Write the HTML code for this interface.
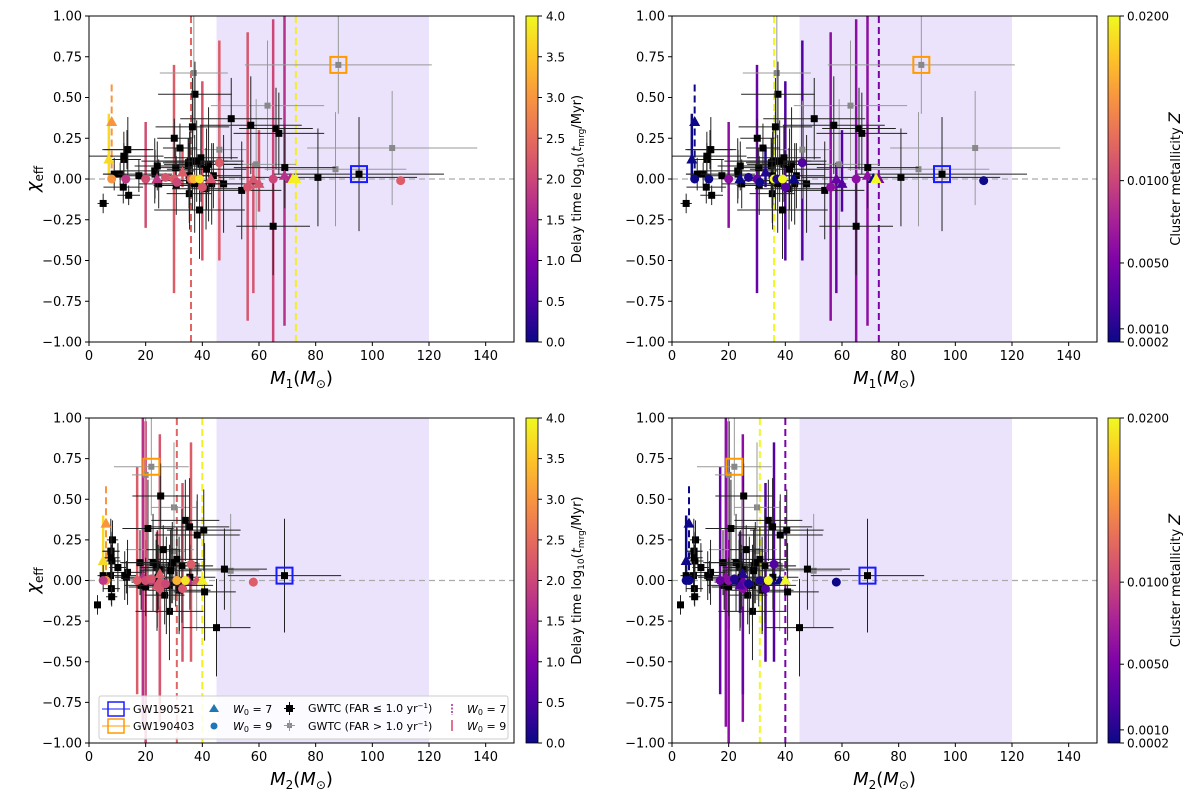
<!DOCTYPE html>
<html><head><meta charset="utf-8">
<style>
html,body{margin:0;padding:0;background:#fff;}
svg{display:block;font-family:"DejaVu Sans","Liberation Sans",sans-serif;}
</style></head>
<body>
<svg id="chart" width="1200" height="803" viewBox="0 0 1200 803" xmlns="http://www.w3.org/2000/svg">
<defs>
<linearGradient id="plasma" x1="0" y1="1" x2="0" y2="0">
<stop offset="0" stop-color="#0d0887"/><stop offset="0.125" stop-color="#4c02a1"/><stop offset="0.25" stop-color="#7e03a8"/><stop offset="0.375" stop-color="#a82296"/><stop offset="0.5" stop-color="#cc4778"/><stop offset="0.625" stop-color="#e66c5c"/><stop offset="0.75" stop-color="#f89540"/><stop offset="0.875" stop-color="#fdc527"/><stop offset="1" stop-color="#f0f921"/>
</linearGradient>
</defs>
</svg>
<script>
// ---- GWTC events ----
const gwM1 = [35.6,23.2,13.7,30.8,11.0,50.2,35.0,30.6,35.4,39.5,24.6,30.1,35.5,47.5,41.3,39.5,43.3,23.3,35.7,39.0,37.4,66.0,42.2,36.5,69.1,57.1,35.1,53.9,67.0,12.1,17.6,36.5,13.4,38.0,12.3,41.5,37.3,32.1,24.1,43.9,35.3,8.9,80.8,12.3,65.0,5.0,14.0,95.3];
const gwM2 = [30.6,13.6,7.7,20.0,7.6,34.0,23.8,25.2,26.7,29.0,18.4,8.3,24.0,31.8,31.9,31.0,28.4,12.6,18.0,28.4,25.3,40.5,32.8,22.6,47.8,35.5,23.7,40.8,38.2,7.9,13.2,20.8,7.8,29.4,8.1,28.8,27.3,26.2,10.2,35.6,24.4,5.0,24.1,7.8,45.0,3.0,8.0,69.0];
const gwChi = [-0.01,0.05,0.18,-0.04,0.03,0.37,0.08,0.07,-0.09,0.09,-0.03,0.25,-0.01,-0.03,-0.06,0.13,-0.03,0.03,0.11,-0.19,0.52,0.31,0.09,0.11,0.07,0.33,0.10,-0.07,0.28,-0.05,0.02,0.32,0.18,0.11,0.12,0.06,-0.03,0.19,0.08,0.02,0.02,0.03,0.01,0.14,-0.29,-0.15,-0.10,0.03];
const gwM1Err = [5,14,9,8,6,18,8,6,8,13,7,6,12,14,12,13,11,6,12,16,13,13,12,18,18,18,9,14,16,7,6,13,8,11,6,14,12,6,8,10,11,4,35,14,13,2,4,30];
const gwM2Err = [6,6,3,6,3,12,6,6,7,9,6,2,9,12,11,10,10,4,7,12,10,13,11,11,15,14,7,11,15,3,4,9,3,9,3,11,10,6,3,9,8,2,12,3,12,1,2,20];
const gwChiErr = [0.15,0.2,0.2,0.18,0.07,0.25,0.17,0.12,0.18,0.23,0.15,0.12,0.3,0.3,0.25,0.2,0.25,0.15,0.2,0.3,0.2,0.25,0.35,0.3,0.25,0.3,0.15,0.3,0.25,0.1,0.1,0.3,0.12,0.25,0.1,0.25,0.3,0.15,0.15,0.2,0.2,0.1,0.3,0.15,0.3,0.06,0.06,0.35];
// low significance (FAR > 1/yr)
const lowM1 = [88,107,87,63,46,37,59];
const lowM2 = [22,25,50,30,30,20,38];
const lowChi = [0.70,0.19,0.06,0.45,0.18,0.65,0.09];
const lowM1Err = [33,30,25,20,10,12,14];
const lowChiErr = [0.3,0.35,0.35,0.4,0.3,0.4,0.4];
// ---- cluster model mergers ----
const clM1 = [8,8,36,73,65,69,56,46,40,30,58,24,71,110,13,37,39,43,33,72,20,7,60,27,31];
const clM2 = [6,6,31,40,20,19,25,36,33,17,25,22,35,58,5,31,34,38,25,40,20,5,24,22,27];
const clChi = [0.35,0.0,0.0,0.0,0.0,0.02,-0.05,0.1,-0.05,0.0,0.0,0.0,0.0,-0.01,0.0,0.0,0.0,0.0,0.04,0.0,0.0,0.12,-0.03,0.01,-0.02];
const clLo = [0.0,0.0,-1,-1,-1,-0.9,-0.87,-0.5,-0.5,-0.7,-0.7,0,0,0,0,0,0,0,-0.05,0,-0.3,0.0,-0.2,0,0];
const clHi = [0.58,0.0,1,1,0.98,1.0,0.9,0.85,0.6,0.7,0.1,0,0,0,0,0,0,0,0.2,0,0.35,0.4,0.3,0,0];
const clW0 = [7,9,9,7,9,7,9,9,9,9,7,7,7,9,9,9,9,7,7,7,9,7,7,9,9];
const clLogT = [3.0,3.0,2.4,3.9,2.0,1.7,2.2,2.3,2.2,2.3,2.2,1.8,1.6,2.3,1.8,3.3,3.8,2.2,2.3,3.9,2.1,3.7,2.2,2.2,2.0];
const clZ = [0.0002,0.0002,0.02,0.005,0.006,0.006,0.006,0.003,0.003,0.004,0.004,0.0002,0.0002,0.0002,0.0002,0.001,0.02,0.0002,0.001,0.02,0.006,0.0002,0.003,0.001,0.0005];
const clDashed = [1,0,1,1,0,0,0,0,0,0,0,0,0,0,0,0,0,0,0,0,0,0,0,0,0];
const xTicks = [0,20,40,60,80,100,120,140];
const yTicks = [1.00,0.75,0.50,0.25,0.00,-0.25,-0.50,-0.75,-1.00];
const delayTicks = [0.0,0.5,1.0,1.5,2.0,2.5,3.0,3.5,4.0];
const zTicks = [0.0002,0.0010,0.0050,0.0100,0.0200];

const NS="http://www.w3.org/2000/svg";
const svg=document.getElementById('chart');
function el(tag,attrs,parent){const e=document.createElementNS(NS,tag);for(const k in attrs)e.setAttribute(k,attrs[k]);(parent||svg).appendChild(e);return e;}
const stops=[[0,[13,8,135]],[0.125,[76,2,161]],[0.25,[126,3,168]],[0.375,[168,34,150]],[0.5,[204,71,120]],[0.625,[230,108,92]],[0.75,[248,149,64]],[0.875,[253,197,39]],[1,[240,249,33]]];
function plasma(t){t=Math.max(0,Math.min(1,t));for(let i=1;i<stops.length;i++){if(t<=stops[i][0]){const a=stops[i-1],b=stops[i];const f=(t-a[0])/(b[0]-a[0]);const c=a[1].map((v,j)=>Math.round(v+(b[1][j]-v)*f));return `rgb(${c[0]},${c[1]},${c[2]})`;}}return 'rgb(240,249,33)';}

const panels=[
 {x0:89,x1:514,y0:16,y1:342,mass:1,mode:'t',cbx:526,name:'m1-delay'},
 {x0:672,x1:1097,y0:16,y1:342,mass:1,mode:'z',cbx:1108,name:'m1-metallicity'},
 {x0:89,x1:514,y0:418,y1:743,mass:2,mode:'t',cbx:526,name:'m2-delay'},
 {x0:672,x1:1097,y0:418,y1:743,mass:2,mode:'z',cbx:1108,name:'m2-metallicity'}];

panels.forEach((p,pi)=>{
 const g=el('g',{});
 
 
 const sx=v=>p.x0+(v/150)*(p.x1-p.x0);
 const sy=v=>p.y0+(1-v)/2*(p.y1-p.y0);
 const cp='clip'+pi;
 const c=el('clipPath',{id:cp},g);el('rect',{x:p.x0,y:p.y0,width:p.x1-p.x0,height:p.y1-p.y0},c);
 const pg=el('g',{'clip-path':`url(#${cp})`},g);
 const shade=el('rect',{x:sx(45),y:p.y0,width:sx(120)-sx(45),height:p.y1-p.y0,fill:'#ebe3fc'},pg);
 
 
 el('line',{x1:p.x0,x2:p.x1,y1:sy(0),y2:sy(0),stroke:'#aaa','stroke-dasharray':'6,4','stroke-width':1.2},pg);
 const mass=(a,b)=>p.mass===1?a:b;
 const col=i=>p.mode==='t'?plasma(clLogT[i]/4):plasma((clZ[i]-0.0002)/(0.0198));
 clM1.forEach((m,i)=>{ if(clHi[i]-clLo[i]<=0) return;
  const x=sx(mass(m,clM2[i]));
  const ln=el('line',{x1:x,x2:x,y1:sy(clHi[i]),y2:sy(clLo[i]),stroke:col(i),'stroke-width':clDashed[i]?2:2.5,'stroke-dasharray':clDashed[i]?'7,4':'none'},pg);
  
  
 });
 lowM1.forEach((m,i)=>{
  const x=sx(mass(m,lowM2[i])),y=sy(lowChi[i]);const e=mass(lowM1Err[i],lowM1Err[i]*0.4);
  el('line',{x1:sx(mass(m,lowM2[i])-e),x2:sx(mass(m,lowM2[i])+e),y1:y,y2:y,stroke:'#999','stroke-width':1},pg);
  el('line',{x1:x,x2:x,y1:sy(lowChi[i]+lowChiErr[i]),y2:sy(lowChi[i]-lowChiErr[i]),stroke:'#999','stroke-width':1},pg);
  const r=el('rect',{x:x-3,y:y-3,width:6,height:6,fill:'#888'},pg);
  
  
 });
 gwM1.forEach((m,i)=>{
  const mv=mass(m,gwM2[i]);const e=mass(gwM1Err[i],gwM2Err[i]);
  const x=sx(mv),y=sy(gwChi[i]);
  el('line',{x1:sx(mv-e),x2:sx(mv+e),y1:y,y2:y,stroke:'#222','stroke-width':1},pg);
  el('line',{x1:x,x2:x,y1:sy(gwChi[i]+gwChiErr[i]),y2:sy(gwChi[i]-gwChiErr[i]),stroke:'#222','stroke-width':1},pg);
  const r=el('rect',{x:x-3.5,y:y-3.5,width:7,height:7,fill:'#000'},pg);
  
  
 });
 clM1.forEach((m,i)=>{
  const x=sx(mass(m,clM2[i])),y=sy(clChi[i]);let mk;
  if(clW0[i]===7) mk=el('polygon',{points:`${x},${y-6} ${x-5.5},${y+4} ${x+5.5},${y+4}`,fill:col(i)},pg);
  else mk=el('circle',{cx:x,cy:y,r:4.5,fill:col(i)},pg);
  
  
 });
 const hl=[[95.3,69,0.03,'#1a1aff','gw190521-marker'],[88,22,0.70,'#ff9a00','gw190403-marker']];
 hl.forEach(h=>{const x=sx(mass(h[0],h[1])),y=sy(h[2]);
  const r=el('rect',{x:x-8,y:y-8,width:16,height:16,fill:'none',stroke:h[3],'stroke-width':2},pg);
  
  });
 el('rect',{x:p.x0,y:p.y0,width:p.x1-p.x0,height:p.y1-p.y0,fill:'none',stroke:'#000','stroke-width':1},g);
 xTicks.forEach(t=>{const x=sx(t);el('line',{x1:x,x2:x,y1:p.y1,y2:p.y1+4,stroke:'#000'},g);
  const tx=el('text',{x:x,y:p.y1+18,'text-anchor':'middle','font-size':13},g);tx.textContent=t;
  });
 yTicks.forEach(t=>{const y=sy(t);el('line',{x1:p.x0-4,x2:p.x0,y1:y,y2:y,stroke:'#000'},g);
  const tx=el('text',{x:p.x0-7,y:y+4.5,'text-anchor':'end','font-size':13},g);tx.textContent=t.toFixed(2).replace('-','\u2212');
  });
 const xt=el('text',{x:(p.x0+p.x1)/2,y:p.y1+42,'text-anchor':'middle','font-size':18},g);
 xt.innerHTML=`<tspan font-style="italic">M</tspan><tspan font-size="12" dy="4">${p.mass}</tspan><tspan dy="-4">(</tspan><tspan font-style="italic">M</tspan><tspan font-size="12" dy="4">\u2299</tspan><tspan dy="-4">)</tspan>`;
 
 if(p.x0<300){const yt=el('text',{x:0,y:0,'text-anchor':'middle','font-size':18,transform:`translate(${p.x0-50},${(p.y0+p.y1)/2}) rotate(-90)`},g);
  yt.innerHTML='<tspan font-style="italic">\u03c7</tspan><tspan font-size="12" dy="4">eff</tspan>';
  }
 const cb=el('rect',{x:p.cbx,y:p.y0,width:12,height:p.y1-p.y0,fill:'url(#plasma)',stroke:'#000','stroke-width':0.8},g);
 
 const H=p.y1-p.y0;
 if(p.mode==='t'){delayTicks.forEach(t=>{const y=p.y1-t/4*H;el('line',{x1:p.cbx+12,x2:p.cbx+16,y1:y,y2:y,stroke:'#000'},g);
   const tx=el('text',{x:p.cbx+20,y:y+4.5,'font-size':12},g);tx.textContent=t.toFixed(1);
   });
  const lb=el('text',{x:0,y:0,'text-anchor':'middle','font-size':13,transform:`translate(${p.cbx+55},${(p.y0+p.y1)/2}) rotate(-90)`},g);
  lb.innerHTML='Delay time  log<tspan font-size="9" dy="3">10</tspan><tspan dy="-3">(</tspan><tspan font-style="italic">t</tspan><tspan font-size="9" dy="3">mrg</tspan><tspan dy="-3">/Myr)</tspan>';
  
 } else {zTicks.forEach(t=>{const y=p.y1-(t-0.0002)/0.0198*H;el('line',{x1:p.cbx+12,x2:p.cbx+16,y1:y,y2:y,stroke:'#000'},g);
   const tx=el('text',{x:p.cbx+19,y:y+4.5,'font-size':12},g);tx.textContent=t.toFixed(4);
   });
  const lb=el('text',{x:0,y:0,'text-anchor':'middle','font-size':13,transform:`translate(${p.cbx+72},${(p.y0+p.y1)/2}) rotate(-90)`},g);
  lb.innerHTML='Cluster metallicity   <tspan font-style="italic" font-size="16">Z</tspan>';
  }
});
// legend
const lg=el('g',{});


el('rect',{x:99,y:696,width:409,height:43,fill:'#fff','fill-opacity':0.85,stroke:'#ccc',rx:2},lg);
function lt(x,y,html){const t=el('text',{x:x,y:y,'font-size':11},lg);t.innerHTML=html;return t;}
el('rect',{x:108,y:702,width:16,height:14,fill:'none',stroke:'#1a1aff','stroke-width':1.5},lg);el('line',{x1:102,x2:130,y1:709,y2:709,stroke:'#1a1aff'},lg);
el('rect',{x:108,y:719,width:16,height:14,fill:'none',stroke:'#ff9a00','stroke-width':1.5},lg);el('line',{x1:102,x2:130,y1:726,y2:726,stroke:'#ff9a00'},lg);
lt(133,713,'GW190521');lt(133,730,'GW190403');
el('polygon',{points:'214,704 209,712 219,712',fill:'#1f77b4'},lg);el('circle',{cx:214,cy:726,r:3.5,fill:'#1f77b4'},lg);
lt(233,713,'<tspan font-style="italic">W</tspan><tspan font-size="8" dy="2">0</tspan><tspan dy="-2"> = 7</tspan>');
lt(233,730,'<tspan font-style="italic">W</tspan><tspan font-size="8" dy="2">0</tspan><tspan dy="-2"> = 9</tspan>');
el('rect',{x:286,y:705,width:7,height:7,fill:'#000'},lg);el('line',{x1:284,x2:295,y1:708.5,y2:708.5,stroke:'#000'},lg);el('line',{x1:289.5,x2:289.5,y1:702,y2:715,stroke:'#000'},lg);
el('rect',{x:287,y:723,width:5,height:5,fill:'#888'},lg);el('line',{x1:284,x2:295,y1:725.5,y2:725.5,stroke:'#999'},lg);el('line',{x1:289.5,x2:289.5,y1:720,y2:731,stroke:'#999'},lg);
lt(308,712,'GWTC (FAR \u2264 1.0 yr<tspan font-size="7" dy="-4">\u22121</tspan><tspan dy="4">)</tspan>');
lt(308,730,'GWTC (FAR &gt; 1.0 yr<tspan font-size="7" dy="-4">\u22121</tspan><tspan dy="4">)</tspan>');
el('line',{x1:452,x2:452,y1:704,y2:715,stroke:'#a82296','stroke-width':1.5,'stroke-dasharray':'2,1.5'},lg);
el('line',{x1:452,x2:452,y1:720,y2:731,stroke:'#d6456e','stroke-width':1.5},lg);
lt(467,713,'<tspan font-style="italic">W</tspan><tspan font-size="8" dy="2">0</tspan><tspan dy="-2"> = 7</tspan>');
lt(467,730,'<tspan font-style="italic">W</tspan><tspan font-size="8" dy="2">0</tspan><tspan dy="-2"> = 9</tspan>');
</script>
</body></html>
